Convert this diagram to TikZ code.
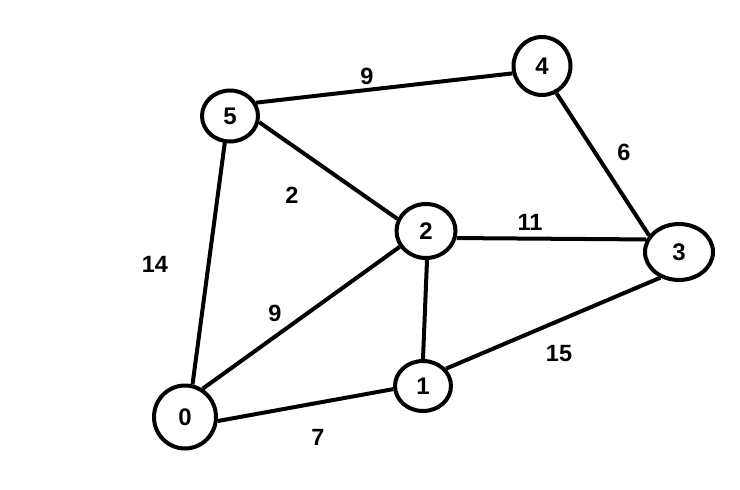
\documentclass[tikz,border=0pt]{standalone}
\usepackage{fontspec}
\setmainfont{Liberation Sans}
\usetikzlibrary{shapes.geometric}
\begin{document}
\begin{tikzpicture}[x=1pt,y=-1pt,
  vert/.style={draw,ellipse,line width=4pt,fill=white,inner sep=0pt,font=\bfseries\fontsize{24}{26}\selectfont},
  edge/.style={line width=4pt},
  wlab/.style={font=\bfseries\fontsize{23.5}{26}\selectfont,inner sep=0pt}]
\useasboundingbox (0,0) rectangle (740,490);
\node[vert,minimum width=62pt,minimum height=63pt] (n0) at (185,417) {0};
\node[vert,minimum width=56pt,minimum height=50pt] (n1) at (423,386) {1};
\node[vert,minimum width=59pt,minimum height=54pt] (n2) at (426,231) {2};
\node[vert,minimum width=68pt,minimum height=56pt] (n3) at (679,252) {3};
\node[vert,minimum width=57pt,minimum height=58pt] (n4) at (542,66) {4};
\node[vert,minimum width=56pt,minimum height=51pt] (n5) at (230,116) {5};
\draw[edge] (n0.77) -- (n5.-101);
\draw[edge] (n0.58) -- (n2.211);
\draw[edge] (n0.-7) -- (n1.186);
\draw[edge] (n1.90) -- (n2.-88);
\draw[edge] (n1.37) -- (n3.234);
\draw[edge] (n2.-13) -- (n3.159);
\draw[edge] (n5.-12) -- (n2.157);
\draw[edge] (n5.27) -- (n4.194);
\draw[edge] (n4.-62) -- (n3.151);
\node[wlab] (w54) at (367,76) {9};
\node[wlab] (w43) at (624,152) {6};
\node[wlab] (w52) at (292,195) {2};
\node[wlab] (w23) at (530,222) {11};
\node[wlab] (w05) at (155,264) {14};
\node[wlab] (w02) at (275,313) {9};
\node[wlab] (w13) at (559,354) {15};
\node[wlab] (w01) at (318,437) {7};
\end{tikzpicture}
\end{document}
